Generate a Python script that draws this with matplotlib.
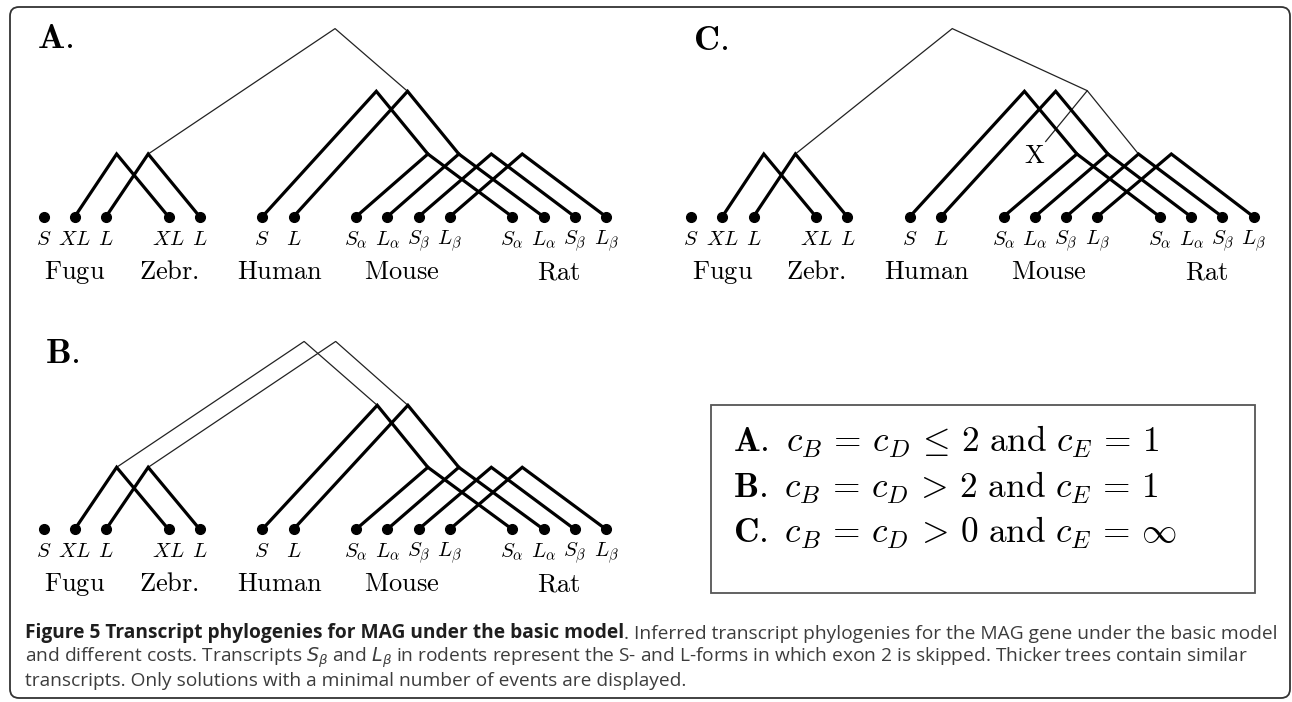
"""Transcript phylogenies for MAG under the basic model (three panels + legend box)."""

import matplotlib

matplotlib.use("Agg")
import matplotlib.pyplot as plt
from matplotlib.patches import FancyBboxPatch, Rectangle

plt.rcParams["mathtext.fontset"] = "cm"

W, H = 1292, 702

# leaves: position along the tree axis (leaf spacing units) and labels
LEAF_NAMES = ["fugu_S", "fugu_XL", "fugu_L", "zeb_XL", "zeb_L", "hum_S", "hum_L",
              "mou_Sa", "mou_La", "mou_Sb", "mou_Lb", "rat_Sa", "rat_La", "rat_Sb", "rat_Lb"]
LEAF_X = [0, 1, 2, 4, 5, 7, 8, 10, 11, 12, 13, 15, 16, 17, 18]
LEAF_LABELS = [r"$S$", r"$XL$", r"$L$", r"$XL$", r"$L$", r"$S$", r"$L$",
               r"$S_\alpha$", r"$L_\alpha$", r"$S_\beta$", r"$L_\beta$",
               r"$S_\alpha$", r"$L_\alpha$", r"$S_\beta$", r"$L_\beta$"]

SPECIES = ["Fugu", "Zebr.", "Human", "Mouse", "Rat"]
SPECIES_X = [1.0, 4.0, 7.55, 11.45, 16.5]

# internal nodes (x, height)
NODES_A = {"f1": (2.34, 1), "f2": (3.35, 1), "m1": (10.65, 2), "m2": (11.65, 2),
           "r1": (12.30, 1), "r2": (13.29, 1), "r3": (14.33, 1), "r4": (15.32, 1),
           "root": (9.33, 3)}
NODES_B = {"f1": (2.34, 1), "f2": (3.35, 1), "m1": (10.68, 2), "m2": (11.66, 2),
           "r1": (12.30, 1), "r2": (13.29, 1), "r3": (14.33, 1), "r4": (15.32, 1),
           "root1": (8.34, 3.03), "root2": (9.35, 3.03)}
NODES_C = {"f1": (2.33, 1), "f2": (3.34, 1), "m1": (10.67, 2), "m2": (11.67, 2),
           "r1": (12.35, 1), "r2": (13.34, 1), "r3": (14.32, 1), "r4": (15.37, 1),
           "root": (8.36, 3), "n": (12.68, 2.01), "loss": (11.35, 1.2)}

# thick trees (similar transcripts): node, left child, right child
THICK = [("f1", "fugu_XL", "zeb_XL"), ("f2", "fugu_L", "zeb_L"),
         ("m1", "hum_S", "r1"), ("m2", "hum_L", "r2"),
         ("r1", "mou_Sa", "rat_Sa"), ("r2", "mou_La", "rat_La"),
         ("r3", "mou_Sb", "rat_Sb"), ("r4", "mou_Lb", "rat_Lb")]
THIN_A = [("root", "f2", "m2")]
THIN_B = [("root1", "f1", "m1"), ("root2", "f2", "m2")]
THIN_C = [("root", "f2", "n"), ("n", "loss", "r3")]
LOSS_C = ("X", 11.0, 0.97)

LEGEND_LINES = [
    r"$\mathbf{A.}\ c_B \,=\, c_D \,\leq\, 2\ \mathrm{and}\ c_E \,=\, 1$",
    r"$\mathbf{B.}\ c_B \,=\, c_D \,>\, 2\ \mathrm{and}\ c_E \,=\, 1$",
    r"$\mathbf{C.}\ c_B \,=\, c_D \,>\, 0\ \mathrm{and}\ c_E \,=\, \infty$",
]

CAPTION_BOLD = "Figure 5 Transcript phylogenies for MAG under the basic model"
CAPTION_1 = ". Inferred transcript phylogenies for the MAG gene under the basic model"
CAPTION_2 = (r"and different costs. Transcripts $S_\beta$ and $L_\beta$ in rodents represent the "
             r"S- and L-forms in which exon 2 is skipped. Thicker trees contain similar")
CAPTION_3 = "transcripts. Only solutions with a minimal number of events are displayed."


def panel_axes(fig, box, x0, y0, sx=31.25, sy=62.7):
    left, top, w, h = box
    ax = fig.add_axes([left / W, 1 - (top + h) / H, w / W, h / H])
    ax.set_xlim((left - x0) / sx, (left + w - x0) / sx)
    ax.set_ylim((y0 - (top + h)) / sy, (y0 - top) / sy)
    ax.axis("off")
    return ax


def draw_panel(ax, nodes, thin):
    pts = {name: (x, 0) for name, x in zip(LEAF_NAMES, LEAF_X)}
    pts.update(nodes)
    for node, a, b in THICK:
        xs = [pts[a][0], pts[node][0], pts[b][0]]
        ys = [pts[a][1], pts[node][1], pts[b][1]]
        ax.plot(xs, ys, color="black", lw=2.3, solid_joinstyle="miter", zorder=2)
    for node, a, b in thin:
        xs = [pts[a][0], pts[node][0], pts[b][0]]
        ys = [pts[a][1], pts[node][1], pts[b][1]]
        ax.plot(xs, ys, color="#222222", lw=0.9, solid_joinstyle="miter", zorder=1)
    ax.plot(LEAF_X, [0] * len(LEAF_X), "o", color="black", ms=7, zorder=3)
    for x, lab in zip(LEAF_X, LEAF_LABELS):
        ax.text(x, -0.45, lab, ha="center", va="baseline", fontsize=15)
    for x, sp in zip(SPECIES_X, SPECIES):
        ax.text(x, -1.0, r"$\mathrm{%s}$" % sp, ha="center", va="baseline", fontsize=19)


fig = plt.figure(figsize=(W / 100, H / 100), dpi=100)
bg = fig.add_axes([0, 0, 1, 1])
bg.set_xlim(0, W)
bg.set_ylim(H, 0)
bg.axis("off")

bg.add_patch(FancyBboxPatch((10, 7), 1280, 691, boxstyle="round,pad=0,rounding_size=9",
                            fc="white", ec="#333333", lw=1.3))

ax_a = panel_axes(fig, (15, 12, 630, 285), 43.5, 216.7)
draw_panel(ax_a, NODES_A, THIN_A)
ax_c = panel_axes(fig, (660, 12, 625, 285), 691, 216.7)
draw_panel(ax_c, NODES_C, THIN_C)
ax_c.text(LOSS_C[1], LOSS_C[2], r"$\mathrm{%s}$" % LOSS_C[0], ha="center", va="center", fontsize=19)
ax_b = panel_axes(fig, (15, 318, 630, 285), 43.5, 529.3, sy=62)
draw_panel(ax_b, NODES_B, THIN_B)

for lab, x, y in [("A.", 37, 48.5), ("C.", 693, 50), ("B.", 45, 363)]:
    bg.text(x, y, r"$\mathbf{%s}$" % lab, fontsize=26, va="baseline", ha="left")

# legend box
bg.add_patch(Rectangle((711, 405), 544, 188, fc="white", ec="#555555", lw=1.3))
for line, y in zip(LEGEND_LINES, [451.7, 498.3, 543.3]):
    bg.text(733, y, line, fontsize=25.5, va="baseline", ha="left")

# caption
cap_font = "Open Sans"
cap_size = 13.75
t1 = bg.text(25, 638, CAPTION_BOLD, family=cap_font, fontweight="bold", fontsize=cap_size,
             color="#1e1e1e", va="baseline")
bg.annotate(CAPTION_1, xy=(1, 0), xycoords=t1, va="bottom", ha="left", family=cap_font,
            fontsize=cap_size, color="#3c3c3c")
bg.text(25, 662, CAPTION_2, family=cap_font, fontsize=cap_size, color="#3c3c3c",
        va="baseline", math_fontfamily="dejavusans")
bg.text(25, 685.5, CAPTION_3, family=cap_font, fontsize=cap_size, color="#3c3c3c",
        va="baseline")

fig.savefig("out.png", dpi=100)
